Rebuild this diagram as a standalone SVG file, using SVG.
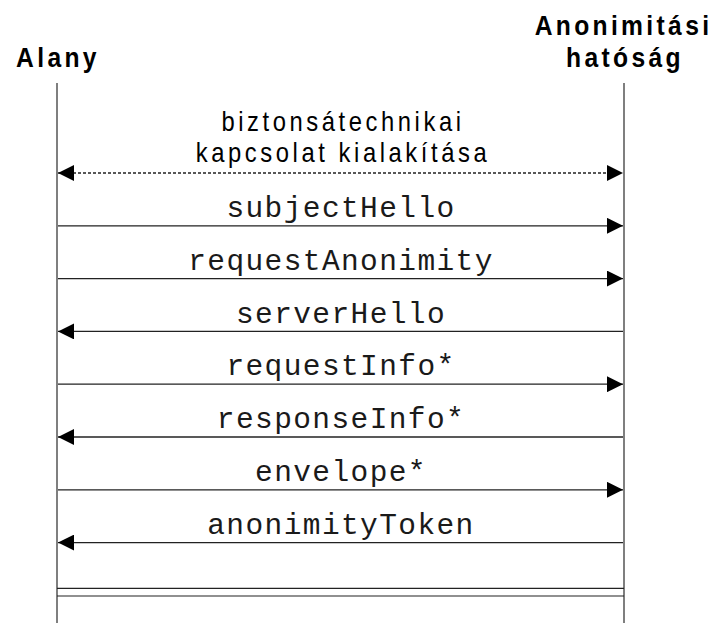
<svg xmlns="http://www.w3.org/2000/svg" width="715" height="623" viewBox="0 0 715 623">
<style>
.hdr{font-family:"Liberation Sans",Arial,sans-serif;font-weight:bold;font-size:28px;letter-spacing:3.8px;fill:#000;text-anchor:middle}
.note{font-family:"Liberation Sans",Arial,sans-serif;font-size:28px;letter-spacing:4.2px;fill:#000;text-anchor:middle}
.msg{font-family:"Liberation Mono","Courier New",monospace;font-size:29.5px;letter-spacing:1.4px;fill:#1a1a1a;text-anchor:middle}
.life{stroke:#555;stroke-width:1.5;fill:none}
.m{stroke:#222;stroke-width:1.3;fill:none}
.dash{stroke-dasharray:3,2}
.sep{stroke:#222;stroke-width:1.2;fill:none}
</style>
<defs>
<marker id="arr" viewBox="0 0 16 16" refX="16" refY="8" markerWidth="16" markerHeight="16" markerUnits="userSpaceOnUse" orient="auto-start-reverse">
<path d="M0,0 L16,8 L0,16 z" fill="#000"/>
</marker>
</defs>
<rect width="715" height="623" fill="#fff"/>
<g id="alany">
<text class="hdr" transform="translate(58,67) scale(0.88,1)">Alany</text>
<line class="life" x1="57" y1="83" x2="57" y2="623"/>
</g>
<g id="hatosag">
<text class="hdr" transform="translate(623.5,35) scale(0.88,1)">Anonimitási</text>
<text class="hdr" transform="translate(625,67) scale(0.88,1)">hatóság</text>
<line class="life" x1="624" y1="83" x2="624" y2="623"/>
</g>
<g id="connectors">
<text class="note" transform="translate(343,131) scale(0.85,1)">biztonsátechnikai</text>
<text class="note" transform="translate(343,162) scale(0.85,1)">kapcsolat kialakítása</text>
<line class="m dash" x1="58" y1="173" x2="623" y2="173" marker-start="url(#arr)" marker-end="url(#arr)"/>
<text class="msg" x="341" y="217">subjectHello</text>
<line class="m" x1="58" y1="225.8" x2="623" y2="225.8" marker-end="url(#arr)"/>
<text class="msg" x="341" y="270">requestAnonimity</text>
<line class="m" x1="58" y1="278.6" x2="623" y2="278.6" marker-end="url(#arr)"/>
<text class="msg" x="341" y="323">serverHello</text>
<line class="m" x1="58" y1="331.4" x2="623" y2="331.4" marker-start="url(#arr)"/>
<text class="msg" x="341" y="375">requestInfo*</text>
<line class="m" x1="58" y1="384.2" x2="623" y2="384.2" marker-end="url(#arr)"/>
<text class="msg" x="341" y="428">responseInfo*</text>
<line class="m" x1="58" y1="437" x2="623" y2="437" marker-start="url(#arr)"/>
<text class="msg" x="341" y="481">envelope*</text>
<line class="m" x1="58" y1="489.8" x2="623" y2="489.8" marker-end="url(#arr)"/>
<text class="msg" x="341" y="534">anonimityToken</text>
<line class="m" x1="58" y1="542.6" x2="623" y2="542.6" marker-start="url(#arr)"/>
<line class="sep" x1="57" y1="588.3" x2="624" y2="588.3"/>
<line class="sep" x1="57" y1="596" x2="624" y2="596"/>
</g>
</svg>
